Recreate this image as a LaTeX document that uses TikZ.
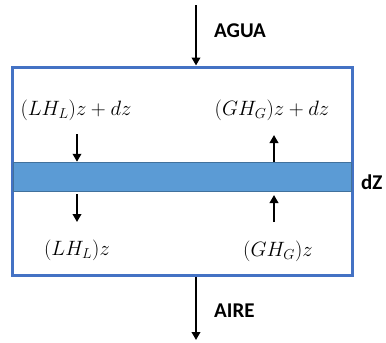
\documentclass[tikz,border=0pt]{standalone}
\usepackage{fontspec}
\setsansfont{Carlito}
\usetikzlibrary{arrows.meta}
\definecolor{boxblue}{HTML}{4472C4}
\definecolor{bandblue}{HTML}{5B9BD5}
\definecolor{bandedge}{HTML}{41719C}
\begin{document}
\begin{tikzpicture}[x=1pt,y=-1pt,
  flow/.style={line width=2.4pt,-{Triangle[length=8pt,width=8.5pt]}},
  lbl/.style={font=\sffamily\bfseries\fontsize{21}{24}\selectfont,anchor=west,inner sep=0pt},
  eq/.style={font=\fontsize{21}{24}\selectfont,inner sep=0pt}]
\useasboundingbox (0,0) rectangle (386,343);
% box
\node[draw=boxblue,line width=3pt,minimum width=340pt,minimum height=208pt,inner sep=0pt] (box) at (182.5,171) {};
\node[fill=bandblue,draw=bandedge,line width=0.5pt,minimum width=338pt,minimum height=29pt,inner sep=0pt] (band) at (182.5,176.5) {};
% outer flows
\coordinate (wtop) at (196,5);
\coordinate (abot) at (196,340);
\draw[flow] (wtop) -- (box.north -| wtop);
\draw[flow] (box.south -| abot) -- (abot);
\node[lbl] (agua) at (214,31) {AGUA};
\node[lbl] (aire) at (214,311) {AIRE};
\node[lbl] (dz) at (361,182) {dZ};
% internal arrows
\coordinate (l1) at (77,134);
\coordinate (l2) at (77,194);
\coordinate (l3) at (77,222);
\coordinate (r1) at (274,135);
\coordinate (r2) at (274,222);
\coordinate (r3) at (274,195);
\draw[flow] (l1) -- (band.north -| l1);
\draw[flow] (l2) -- (l3);
\draw[flow] (band.north -| r1) -- (r1);
\draw[flow] (r2) -- (r3);
% labels
\node[eq] (lhtop) at (76,110) {$(LH_L)z+dz$};
\node[eq] (ghtop) at (272,110) {$(GH_G)z+dz$};
\node[eq] (lhbot) at (77,250) {$(LH_L)z$};
\node[eq] (ghbot) at (278,251) {$(GH_G)z$};
\end{tikzpicture}
\end{document}
